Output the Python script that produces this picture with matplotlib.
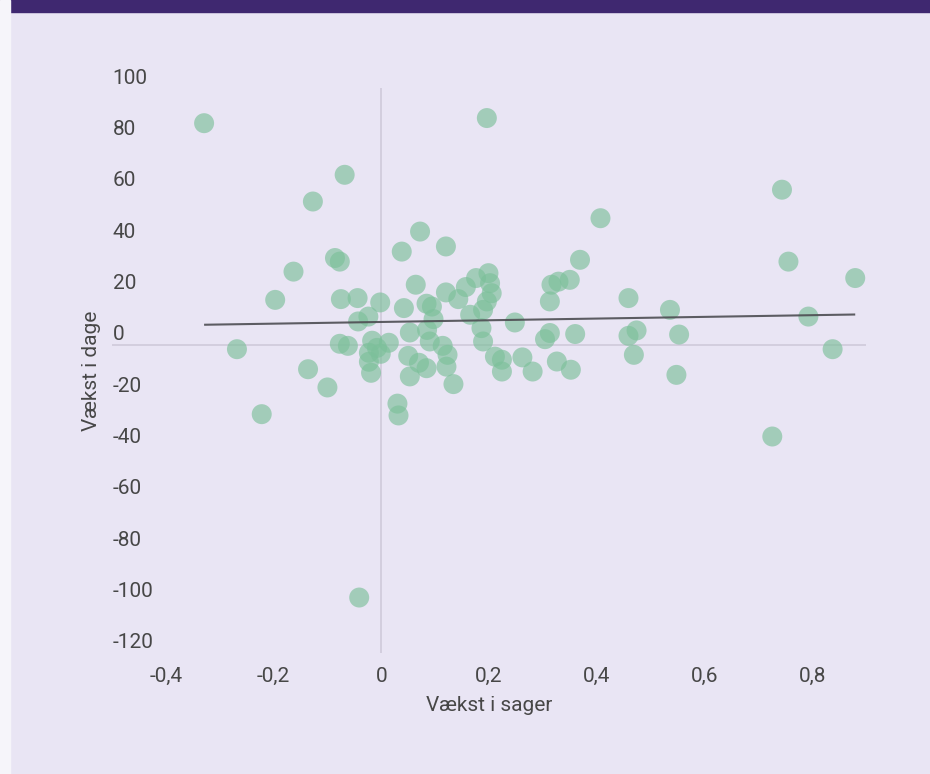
import matplotlib
matplotlib.use("Agg")
import matplotlib.pyplot as plt
import matplotlib.transforms as mtransforms
from matplotlib.patches import Rectangle
import numpy as np

# ---- data ----
vaekst_sager = [
    -0.329, 0.196, -0.068, -0.127, 0.072, 0.120, 0.038, -0.086, -0.077, -0.163,
    -0.197, 0.064, 0.176, 0.199, -0.075, -0.044, -0.002, 0.042, 0.084, 0.094,
    0.120, 0.157, 0.143, 0.202, 0.205, -0.024, -0.043, 0.097, 0.165, 0.189,
    0.186, 0.248, 0.053, -0.268, 0.407, 0.369, 0.316, 0.329, 0.350, 0.313,
    0.459, 0.536, 0.196, 0.189, 0.313, 0.304, 0.360, 0.459, 0.474, 0.553,
    -0.077, -0.062, -0.017, 0.014, -0.008, -0.023, -0.001, -0.023, -0.019,
    0.050, 0.070, 0.084, 0.053, 0.114, 0.123, 0.121, 0.134, 0.090, 0.085,
    0.211, 0.224, 0.224, 0.262, 0.281, 0.326, 0.352, 0.469, 0.548,
    0.030, 0.032, -0.136, -0.100, -0.222, -0.041,
    0.744, 0.756, 0.880, 0.793, 0.838, 0.726,
]
vaekst_dage = [
    86.3, 88.3, 66.2, 55.8, 44.1, 38.3, 36.3, 33.8, 32.4, 28.5,
    17.5, 23.4, 26.0, 27.9, 17.8, 18.2, 16.5, 14.3, 16.0, 14.9,
    20.4, 22.5, 17.8, 24.0, 20.1, 11.0, 9.1, 10.0, 11.7, 13.6,
    6.5, 8.7, 4.8, -1.7, 49.3, 33.1, 23.4, 24.6, 25.3, 16.9,
    18.2, 13.6, 16.9, 1.3, 4.6, 2.2, 4.2, 3.5, 5.6, 4.0,
    0.4, -0.4, 1.6, 0.8, -1.2, -3.1, -3.5, -6.6, -10.9,
    -4.3, -7.0, -9.1, -12.3, -0.4, -3.9, -8.5, -15.3, 1.3, 5.8,
    -4.6, -5.8, -10.4, -4.9, -10.4, -6.5, -9.7, -3.9, -11.7,
    -22.9, -27.5, -9.5, -16.6, -27.0, -98.4,
    60.4, 32.4, 26.0, 11.0, -1.7, -35.7,
]
# linear trend line (intercept, slope)
trend_intercept = 8.9
trend_slope = 3.3

x_ticks = [-0.4, -0.2, 0, 0.2, 0.4, 0.6, 0.8]
x_ticklabels = ["-0,4", "-0,2", "0", "0,2", "0,4", "0,6", "0,8"]
y_ticks = [100, 80, 60, 40, 20, 0, -20, -40, -60, -80, -100, -120]
y_ticklabels = [str(v) for v in y_ticks]
x_title = "Vækst i sager"
y_title = "Vækst i dage"

# ---- style ----
plt.rcParams['font.family'] = ['Roboto', 'DejaVu Sans']
BG = '#e9e5f4'
BANNER = '#3f2870'
STRIP = '#f6f5fa'
POINT = '#7cc09a'
TEXT = '#474747'
BASE = '#cdc8d8'

W, H, DPI = 930, 774, 100
fig = plt.figure(figsize=(W / DPI, H / DPI), dpi=DPI, facecolor=BG)

left, right, top, bottom = 112, 866, 88, 653
ax = fig.add_axes([left / W, 1 - bottom / H, (right - left) / W, (bottom - top) / H])
ax.set_facecolor(BG)
ax.set_xlim(-0.5, 0.9)
ax.set_ylim(-120, 100)
for s in ax.spines.values():
    s.set_visible(False)
ax.set_xticks([])
ax.set_yticks([])

# baselines
ax.axhline(0, color=BASE, lw=1.1, zorder=1)
ax.axvline(0, color=BASE, lw=1.1, zorder=1)

# points
ax.scatter(vaekst_sager, vaekst_dage, s=207, color=POINT, alpha=0.65,
           edgecolors='none', zorder=2)

# trend line
xs = np.array([min(vaekst_sager), max(vaekst_sager)])
ax.plot(xs, trend_intercept + trend_slope * xs, color='#4d4d52', lw=1.5,
        alpha=0.9, zorder=3, solid_capstyle='butt')

# y tick labels (inside, above gridline)
ytr = ax.get_yaxis_transform() + mtransforms.ScaledTranslation(0.7 / DPI, 4.5 / DPI, fig.dpi_scale_trans)
for v, lab in zip(y_ticks, y_ticklabels):
    ax.text(0, v, lab, transform=ytr, ha='left', va='baseline',
            fontsize=15, color=TEXT, zorder=4)

# x tick labels
xtr = ax.get_xaxis_transform() + mtransforms.ScaledTranslation(0, -28.5 / DPI, fig.dpi_scale_trans)
for v, lab in zip(x_ticks, x_ticklabels):
    ax.text(v, 0, lab, transform=xtr, ha='center', va='baseline',
            fontsize=15, color=TEXT)

# axis titles
fig.text(((left + right) / 2) / W, 1 - 711 / H, x_title, ha='center', va='baseline',
         fontsize=15, color=TEXT)
fig.text(91 / W, 1 - ((top + bottom) / 2) / H, y_title, ha='center', va='center',
         rotation=90, fontsize=15, color=TEXT)

# top banner and left strip
fig.patches.append(Rectangle((0, 1 - 12 / H), 1, 12 / H, transform=fig.transFigure,
                             color=BANNER, zorder=10))
fig.patches.append(Rectangle((0, 0), 10 / W, 1, transform=fig.transFigure,
                             color=STRIP, zorder=11))

fig.savefig('out.png', dpi=DPI, facecolor=BG)
